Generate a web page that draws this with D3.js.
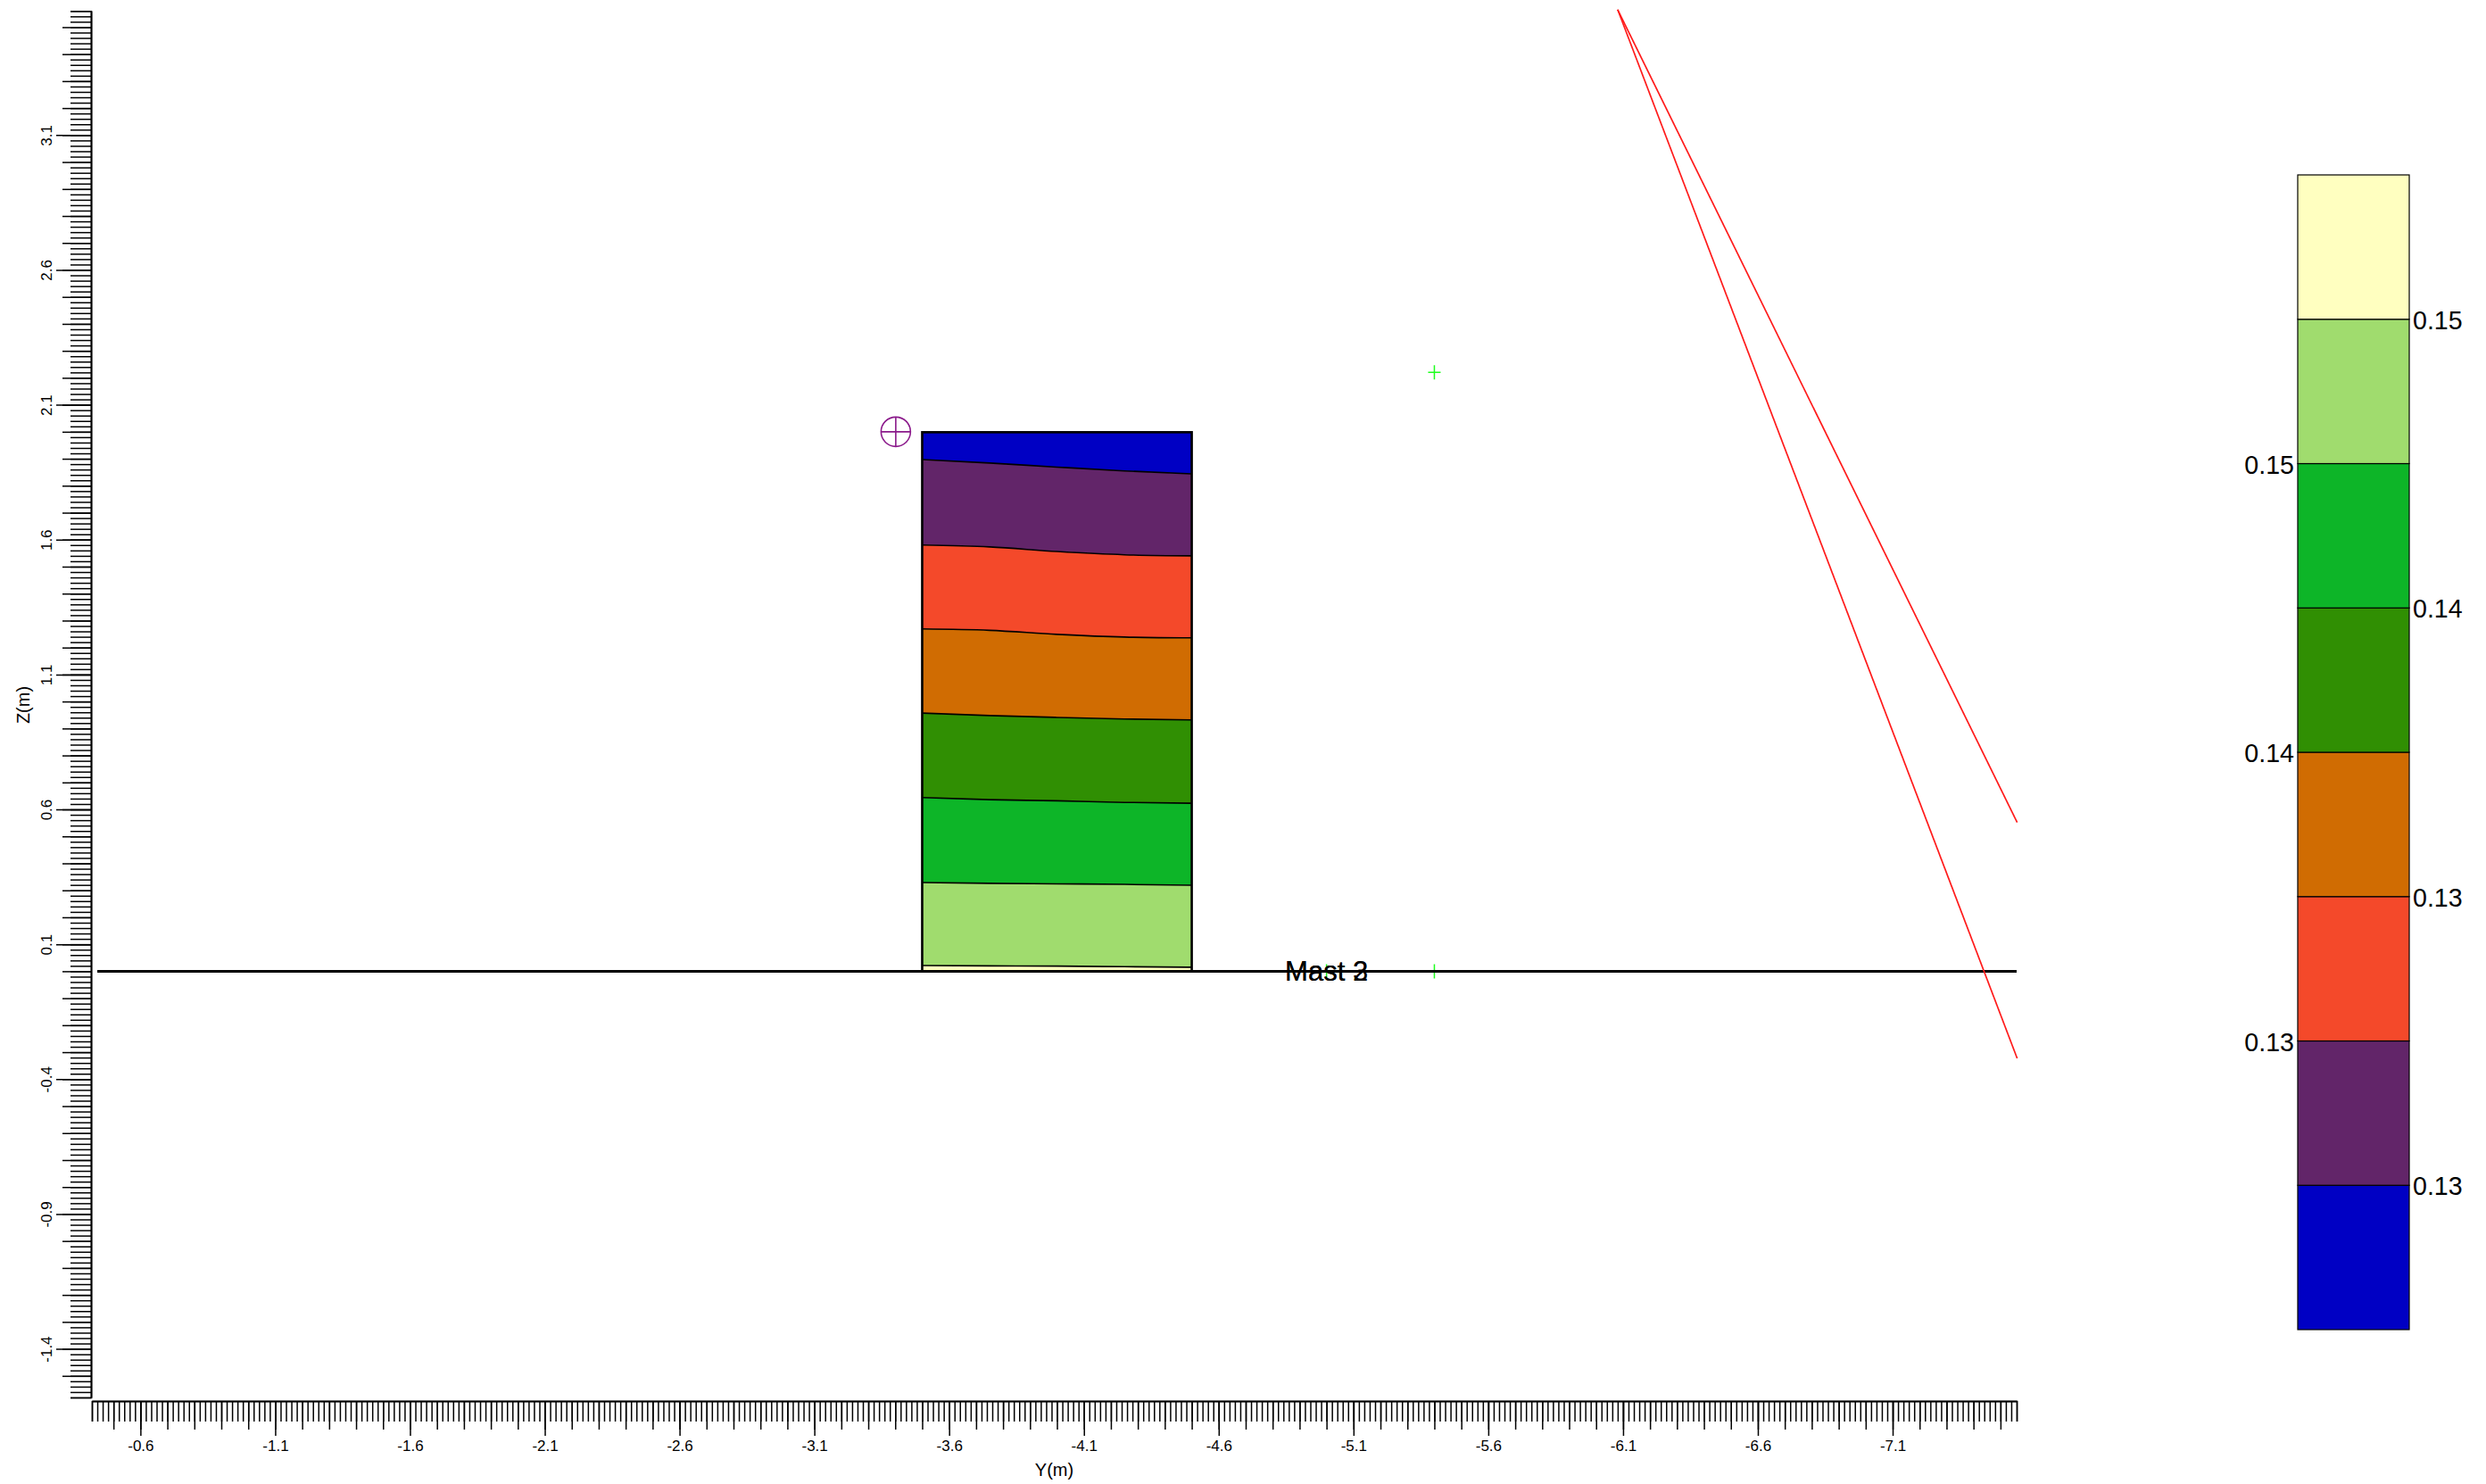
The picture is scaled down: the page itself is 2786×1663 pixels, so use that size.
<!DOCTYPE html>
<html>
<head>
<meta charset="utf-8">
<title>Mast contour</title>
<script src="https://cdnjs.cloudflare.com/ajax/libs/d3/7.8.5/d3.min.js"></script>
<style>
  html, body { margin: 0; padding: 0; background: #fff; }
  svg { display: block; }
  text { font-family: "Liberation Sans", Arial, sans-serif; fill: #000; }
  .axis path, .axis line { stroke: #000; stroke-width: 1.5; }
</style>
</head>
<body>
<div id="chart"></div>
<script>
'use strict'

// Axis limits and labelled ticks
var y_horiz_lim = [-0.42, -7.56]
var z_lim = [3.56, -1.58]
var y_labels = [-0.6, -1.1, -1.6, -2.1, -2.6, -3.1, -3.6, -4.1, -4.6, -5.1, -5.6, -6.1, -6.6, -7.1]
var z_labels = [3.1, 2.6, 2.1, 1.6, 1.1, 0.6, 0.1, -0.4, -0.9, -1.4]

// The rectangle, sampled along Y
var rect_y = [-3.5, -3.75, -4.0, -4.25, -4.5]
var rect_top = [2.0, 2.0, 2.0, 2.0, 2.0]
var rect_bottom = [0, 0, 0, 0, 0]

// Contour lines, top to bottom, Z at each rect_y
var contour_1 = [1.897, 1.884, 1.869, 1.855, 1.844]
var contour_2 = [1.580, 1.573, 1.556, 1.544, 1.540]
var contour_3 = [1.269, 1.264, 1.249, 1.239, 1.236]
var contour_4 = [0.957, 0.948, 0.941, 0.935, 0.932]
var contour_5 = [0.644, 0.636, 0.632, 0.626, 0.623]
var contour_6 = [0.329, 0.326, 0.324, 0.322, 0.319]
var contour_7 = [0.021, 0.020, 0.019, 0.017, 0.015]

var band_colors = ['#0000c4', '#622569', '#f4492a', '#d06c02', '#308f03', '#0db528', '#a0dc6e', '#ffffc0']
var legend_labels = ['0.15', '0.15', '0.14', '0.14', '0.13', '0.13', '0.13']

// Other things in the plane: [Y, Z]
var mast_line = [[-0.44, 0], [-7.56, 0]]
var red_line_1 = [[-6.08, 3.565], [-7.562, 0.552]]
var red_line_2 = [[-6.08, 3.565], [-7.562, -0.323]]
var green_marks = [[-5.4, 2.22], [-5.4, 0], [-5.0, 0]]
var circle_mark = [-3.402, 2.0]
var mast_names = ['Mast 2', 'Mast 3']
var mast_name_pos = [-5.0, 0]

//----------------------
function draw_chart() {
  var W = 2786, H = 1663
  var svg = d3.select('#chart').append('svg')
    .attr('width', W)
    .attr('height', H)

  var scale_x = d3.scaleLinear().domain(y_horiz_lim).range([103, 2260])
  var scale_y = d3.scaleLinear().domain(z_lim).range([12.3, 1566])

  draw_axes(svg, scale_x, scale_y)
  draw_bands(svg, scale_x, scale_y)
  draw_marks(svg, scale_x, scale_y)
  draw_legend(svg)
} // draw_chart()

// Three layers of ticks on each axis: minor, every 0.1, labelled.
//------------------------------------------------------------------
function draw_axes(svg, scale_x, scale_y) {
  var round2 = function(d) { return Math.round(d * 100) / 100 }
  var fmt = function(d) { return d.toFixed(1) } // plain hyphen, not d3's minus sign
  var minor_x = d3.range(42, 757, 2).map(function(d) { return round2(-d / 100) })
  var tenth_x = minor_x.filter(function(d) { return Math.round(d * 100) % 10 == 0 })
  var minor_z = d3.range(-158, 357, 2).map(function(d) { return round2(d / 100) })
  var tenth_z = minor_z.filter(function(d) { return Math.round(d * 100) % 10 == 0 })

  var gx = svg.append('g').attr('class', 'axis').attr('transform', 'translate(0,1570)')
  gx.append('g')
    .call(d3.axisBottom(scale_x).tickValues(minor_x).tickSize(23).tickFormat(''))
  gx.append('g')
    .call(d3.axisBottom(scale_x).tickValues(tenth_x).tickSize(32).tickSizeOuter(0).tickFormat(''))
  gx.append('g')
    .call(d3.axisBottom(scale_x).tickValues(y_labels).tickSize(39).tickSizeOuter(0).tickFormat(fmt))
  gx.selectAll('text').attr('font-size', 17).attr('dy', '0.82em')
    .style('font-family', '"Liberation Sans", Arial, sans-serif')

  var gy = svg.append('g').attr('class', 'axis').attr('transform', 'translate(102,0)')
  gy.append('g')
    .call(d3.axisLeft(scale_y).tickValues(minor_z).tickSize(23).tickFormat(''))
  gy.append('g')
    .call(d3.axisLeft(scale_y).tickValues(tenth_z).tickSize(32).tickSizeOuter(0).tickFormat(''))
  var major = gy.append('g')
    .call(d3.axisLeft(scale_y).tickValues(z_labels).tickSize(39).tickSizeOuter(0).tickFormat(fmt))
  major.selectAll('text')
    .attr('font-size', 17)
    .attr('text-anchor', 'middle')
    .attr('x', null)
    .attr('dy', null)
    .attr('y', null)
    .attr('transform', function(d) { return 'translate(-44,' + (scale_y(d) + 0.5) + ') rotate(-90)' })
    .style('font-family', '"Liberation Sans", Arial, sans-serif')
  // rotate around the label itself, not the tick group
  major.selectAll('.tick').attr('transform', 'translate(0,0)')
  major.selectAll('.tick line').attr('transform', function(d) { return 'translate(0,' + (scale_y(d) + 0.5) + ')' })

  svg.append('text')
    .attr('x', scale_x(-4.0) - 3).attr('y', 1654)
    .attr('text-anchor', 'middle').attr('font-size', 20)
    .text('Y(m)')
  svg.append('text')
    .attr('transform', 'translate(33,790) rotate(-90)')
    .attr('text-anchor', 'middle').attr('font-size', 20)
    .text('Z(m)')
} // draw_axes()

// Colored bands between contours, then the contours, then the frame.
//---------------------------------------------------------------------
function draw_bands(svg, scale_x, scale_y) {
  var edges = [rect_top, contour_1, contour_2, contour_3, contour_4, contour_5, contour_6, contour_7, rect_bottom]

  var area = d3.area()
    .x(function(d) { return scale_x(d[0]) })
    .y0(function(d) { return scale_y(d[1]) })
    .y1(function(d) { return scale_y(d[2]) })
    .curve(d3.curveMonotoneX)

  var line = d3.line()
    .x(function(d) { return scale_x(d[0]) })
    .y(function(d) { return scale_y(d[1]) })
    .curve(d3.curveMonotoneX)

  band_colors.forEach(function(color, i) {
    var data = rect_y.map(function(y, k) { return [y, edges[i][k], edges[i + 1][k]] })
    svg.append('path').attr('d', area(data)).attr('fill', color)
  })

  var contours = [contour_1, contour_2, contour_3, contour_4, contour_5, contour_6, contour_7]
  contours.forEach(function(c) {
    var data = rect_y.map(function(y, k) { return [y, c[k]] })
    svg.append('path').attr('d', line(data))
      .attr('fill', 'none').attr('stroke', '#000').attr('stroke-width', 1.6)
  })

  svg.append('rect')
    .attr('x', scale_x(rect_y[0]))
    .attr('y', scale_y(rect_top[0]) + 0.5)
    .attr('width', scale_x(rect_y[4]) - scale_x(rect_y[0]))
    .attr('height', scale_y(rect_bottom[0]) - scale_y(rect_top[0]) - 0.5)
    .attr('fill', 'none').attr('stroke', '#000').attr('stroke-width', 2.6)
} // draw_bands()

//-------------------------------------------
function draw_marks(svg, scale_x, scale_y) {
  var line = d3.line()
    .x(function(d) { return scale_x(d[0]) })
    .y(function(d) { return scale_y(d[1]) })

  // Green crosses sit under the mast line
  svg.selectAll('path.green').data(green_marks).enter().append('path')
    .attr('class', 'green')
    .attr('transform', function(d) { return 'translate(' + scale_x(d[0]) + ',' + scale_y(d[1]) + ')' })
    .attr('d', 'M-7,0H7M0,-8V8')
    .attr('fill', 'none').attr('stroke', '#1dff1d').attr('stroke-width', 1.5)

  svg.append('path').attr('d', line(mast_line))
    .attr('fill', 'none').attr('stroke', '#000').attr('stroke-width', 3)

  svg.append('path').attr('d', line(red_line_1))
    .attr('fill', 'none').attr('stroke', '#ff1a1a').attr('stroke-width', 1.7)
  svg.append('path').attr('d', line(red_line_2))
    .attr('fill', 'none').attr('stroke', '#ff1a1a').attr('stroke-width', 1.7)

  mast_names.forEach(function(name) {
    svg.append('text')
      .attr('x', scale_x(mast_name_pos[0]))
      .attr('y', scale_y(mast_name_pos[1]) + 11)
      .attr('text-anchor', 'middle')
      .attr('font-size', 31)
      .text(name)
  })

  var g = svg.append('g')
    .attr('transform', 'translate(' + scale_x(circle_mark[0]) + ',' + scale_y(circle_mark[1]) + ')')
    .attr('fill', 'none').attr('stroke', '#8b1a8b').attr('stroke-width', 1.6)
  g.append('circle').attr('r', 16.5)
  g.append('path').attr('d', 'M-16.5,0H16.5M0,-16.5V16.5')
} // draw_marks()

// Legend swatches run bottom to top in band order; labels alternate sides.
//----------------------------------------------------------------------------
function draw_legend(svg) {
  var scale_band = d3.scaleBand()
    .domain(d3.range(band_colors.length))
    .range([1490, 196])

  svg.selectAll('rect.swatch').data(band_colors).enter().append('rect')
    .attr('class', 'swatch')
    .attr('x', 2575)
    .attr('y', function(d, i) { return scale_band(i) })
    .attr('width', 125)
    .attr('height', scale_band.bandwidth())
    .attr('fill', function(d) { return d })
    .attr('stroke', '#000').attr('stroke-width', 1.2)

  // Boundary i sits on top of swatch i+1 counted from the top of the bar
  svg.selectAll('text.leg').data(legend_labels).enter().append('text')
    .attr('class', 'leg')
    .attr('x', function(d, i) { return i % 2 == 0 ? 2704 : 2571 })
    .attr('y', function(d, i) { return 196 + (i + 1) * scale_band.bandwidth() + 11 })
    .attr('text-anchor', function(d, i) { return i % 2 == 0 ? 'start' : 'end' })
    .attr('font-size', 28.6)
    .text(function(d) { return d })
} // draw_legend()

draw_chart()
</script>
</body>
</html>
